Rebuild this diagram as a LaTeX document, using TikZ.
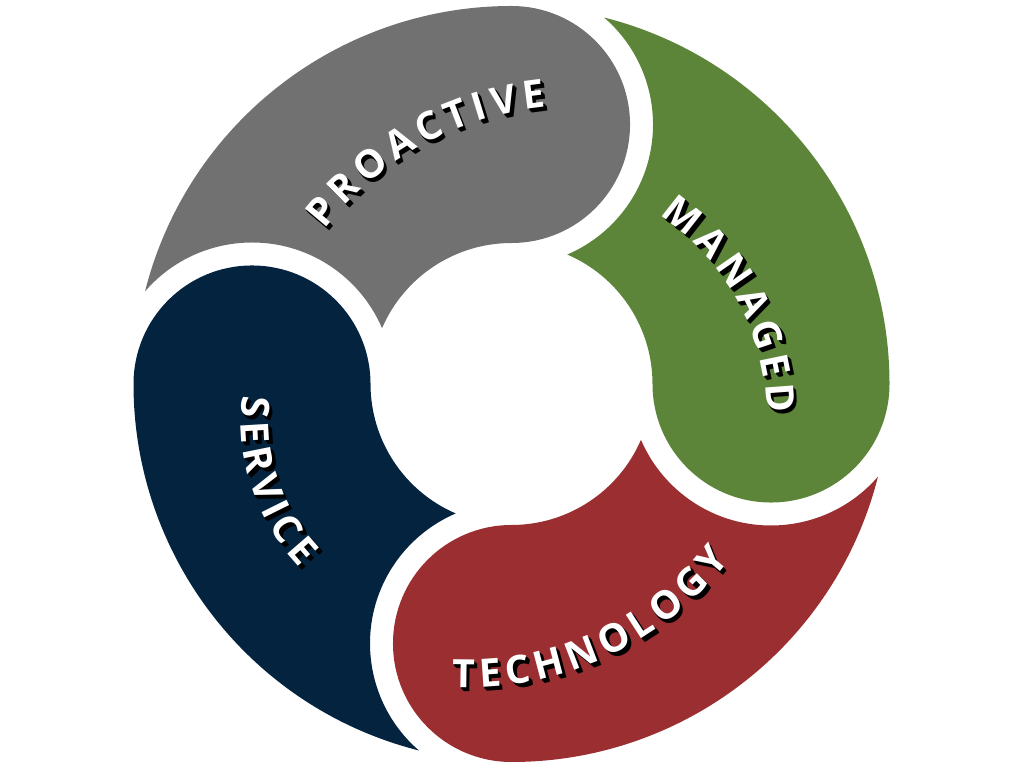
\documentclass[tikz,border=0pt]{standalone}
\usepackage{fontspec}
\newfontfamily\labelfont{Open Sans}[WordSpace=0.55]
\newcommand\lblfont{\labelfont\bfseries\fontsize{39}{41}\selectfont}
\usetikzlibrary{decorations.text}
\definecolor{cgray}{HTML}{717171}
\definecolor{cgreen}{HTML}{5D8539}
\definecolor{cred}{HTML}{9B2E31}
\definecolor{cnavy}{HTML}{03233F}
\def\segoR{378}
\def\segiR{141}
\def\segwR{118.5}
\def\segcR{141.5}
\def\segaT{14.18}
\def\segbT{23.32}
\newcommand\drawseg[2]{%
  \fill[#2] (O) ++(#1:\segoR)
    arc[start angle=#1, end angle={#1+90-\segaT}, radius=\segoR]
    arc[start angle={#1+49.13}, end angle={#1-66.77}, radius=\segcR]
    arc[start angle={#1+90-\segbT}, end angle=#1, radius=\segiR]
    arc[start angle={#1+180}, end angle={#1+360}, radius=\segwR] -- cycle;}
\newcommand\arclabel[6]{%
  \foreach \dx/\dy/\op in {3.5/-4/0.04, 2.5/-3/0.07, 1.5/-2/0.09}{%
    \path[opacity=\op, decorate, decoration={text along path, text color=black,
      text align=center, text={|\lblfont|#6}}]
      (#1+\dx,#2+\dy) ++(#4:#3) arc[start angle=#4, end angle=#5, radius=#3];}
  \path[decorate, decoration={text along path, text color=white,
      text align=center, text={|\lblfont|#6}}]
      (#1,#2) ++(#4:#3) arc[start angle=#4, end angle=#5, radius=#3];}
\begin{document}
\begin{tikzpicture}[x=1pt,y=1pt]
\useasboundingbox (0,0) rectangle (1024,768);
\coordinate (O) at (511.5,384);
\drawseg{90}{cgray}
\drawseg{180}{cnavy}
\drawseg{270}{cred}
\drawseg{0}{cgreen}
\arclabel{576}{344}{318}{160}{77.6}{P R O A C T I V E}
\arclabel{524}{351}{243}{70}{-13}{M A N A G E D}
\arclabel{468}{411}{331}{-105}{-25.5}{T E C H N O L O G Y}
\arclabel{452}{347}{211}{160}{237}{S E R V I C E}
\end{tikzpicture}
\end{document}
